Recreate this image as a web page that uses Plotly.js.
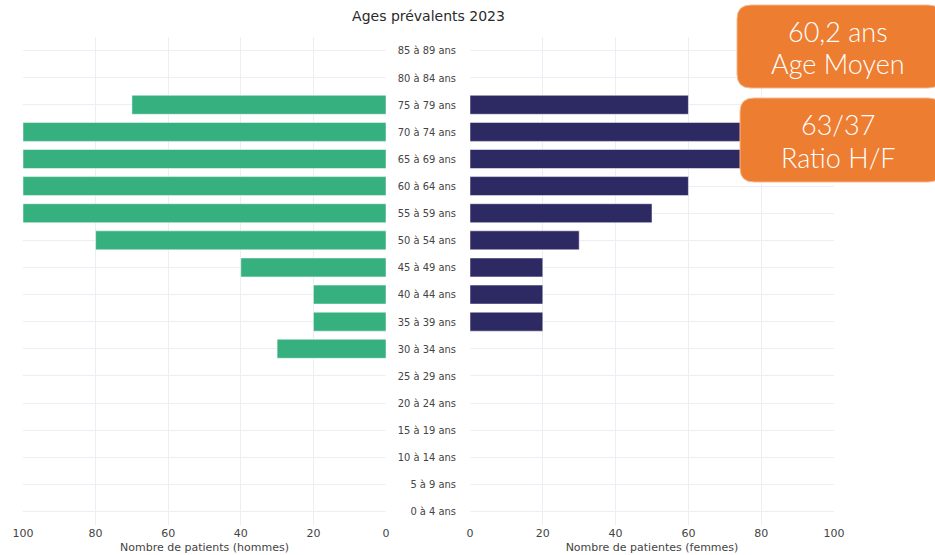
<!DOCTYPE html>
<html>
<head>
<meta charset="utf-8">
<script src="https://cdn.plot.ly/plotly-3.0.1.min.js"></script>
<style>html,body{margin:0;padding:0;background:#fff;}#chart{width:935px;height:555px;}</style>
</head>
<body>
<div id="chart"></div>
<script>
const ageGroups = ["0 à 4 ans","5 à 9 ans","10 à 14 ans","15 à 19 ans","20 à 24 ans","25 à 29 ans","30 à 34 ans","35 à 39 ans","40 à 44 ans","45 à 49 ans","50 à 54 ans","55 à 59 ans","60 à 64 ans","65 à 69 ans","70 à 74 ans","75 à 79 ans","80 à 84 ans","85 à 89 ans"];
const hommes = [0,0,0,0,0,0,30,20,20,40,80,100,100,100,100,70,0,0];
const femmes = [0,0,0,0,0,0,0,20,20,20,30,50,60,80,80,60,0,0];
const xTicks = [0,20,40,60,80,100];
const titleText = "Ages prévalents 2023";
const xTitleLeft = "Nombre de patients (hommes)";
const xTitleRight = "Nombre de patientes (femmes)";
const kpiValues = ["60,2 ans", "63/37"];
const kpiLabels = ["Age Moyen", "Ratio H/F"];

const W = 935, H = 555;
const M = {l: 23, r: 101, t: 37, b: 30};
const PW = W - M.l - M.r, PH = H - M.t - M.b;
const px = x => (x - M.l) / PW;
const py = y => (H - M.b - y) / PH;

function roundRect(x0, y0, x1, y1, r) {
  const rx = r / PW, ry = r / PH;
  const a = px(x0), b = px(x1), top = py(y0), bot = py(y1);
  return `M ${a+rx},${top} L ${b-rx},${top} Q ${b},${top} ${b},${top-ry} L ${b},${bot+ry} Q ${b},${bot} ${b-rx},${bot} L ${a+rx},${bot} Q ${a},${bot} ${a},${bot+ry} L ${a},${top-ry} Q ${a},${top} ${a+rx},${top} Z`;
}

const gridC = "#EDEEF4";
const tickFont = {family: "DejaVu Sans", size: 11, color: "#444"};
const kpiFont = {family: "Lato", size: 27, color: "#ffffff", weight: 300};

const data = [
  {type: "bar", orientation: "h", y: ageGroups, x: hommes, xaxis: "x", yaxis: "y",
   marker: {color: "#36B07E", line: {color: "#ffffff", width: 0.5}}, width: 0.7, hoverinfo: "x+y", showlegend: false},
  {type: "bar", orientation: "h", y: ageGroups, x: femmes, xaxis: "x2", yaxis: "y2",
   marker: {color: "#2D2963", line: {color: "#ffffff", width: 0.5}}, width: 0.7, hoverinfo: "x+y", showlegend: false}
];

const boxY = [[5, 88, 737], [98, 182, 740]];
const annotations = [];
kpiValues.forEach((v, i) => {
  const [y0, y1] = boxY[i];
  const c = (y0 + y1) / 2;
  annotations.push({xref: "paper", yref: "paper", x: px(838), y: py(c - 15), text: v, showarrow: false,
    xanchor: "center", yanchor: "middle", font: kpiFont});
  annotations.push({xref: "paper", yref: "paper", x: px(838), y: py(c + 17), text: kpiLabels[i], showarrow: false,
    xanchor: "center", yanchor: "middle", font: kpiFont});
});

const layout = {
  width: W, height: H,
  margin: M,
  paper_bgcolor: "#fff", plot_bgcolor: "#fff",
  font: {family: "DejaVu Sans", color: "#444"},
  title: {text: titleText, x: 0.5, xref: "paper", xanchor: "center", y: 1 - 16/H, yref: "container", yanchor: "middle",
          font: {family: "DejaVu Sans", size: 14, color: "#2a2a2a"}},
  xaxis: {domain: [0, px(386)], range: [100, 0], tickvals: xTicks, showgrid: true, gridcolor: gridC, zeroline: false,
          showline: false, tickfont: tickFont, ticks: "", fixedrange: true,
          title: {text: xTitleLeft, font: {family: "DejaVu Sans", size: 11, color: "#444"}, standoff: 4}},
  xaxis2: {domain: [px(470), 1], range: [0, 100], tickvals: xTicks, showgrid: true, gridcolor: gridC, zeroline: false,
          showline: false, tickfont: tickFont, ticks: "", fixedrange: true,
          title: {text: xTitleRight, font: {family: "DejaVu Sans", size: 11, color: "#444"}, standoff: 4}},
  yaxis: {type: "category", categoryorder: "array", categoryarray: ageGroups, showticklabels: false,
          showgrid: true, gridcolor: gridC, zeroline: false, range: [-0.5, 17.5], anchor: "x"},
  yaxis2: {type: "category", categoryorder: "array", categoryarray: ageGroups, showticklabels: true, side: "left",
          showgrid: true, gridcolor: gridC, zeroline: false, range: [-0.5, 17.5], anchor: "x2",
          tickfont: {family: "DejaVu Sans Condensed", size: 11, color: "#444"}, ticks: "", ticklabelstandoff: 13},
  shapes: boxY.map(([y0, y1, x0]) => ({type: "path", xref: "paper", yref: "paper", path: roundRect(x0, y0, 942, y1, 14),
    fillcolor: "#ED7D31", line: {color: "#f6b98c", width: 1}, layer: "above"})),
  annotations: annotations,
  bargap: 0.3
};

Plotly.newPlot("chart", data, layout, {displayModeBar: false, staticPlot: true});
</script>
</body>
</html>
